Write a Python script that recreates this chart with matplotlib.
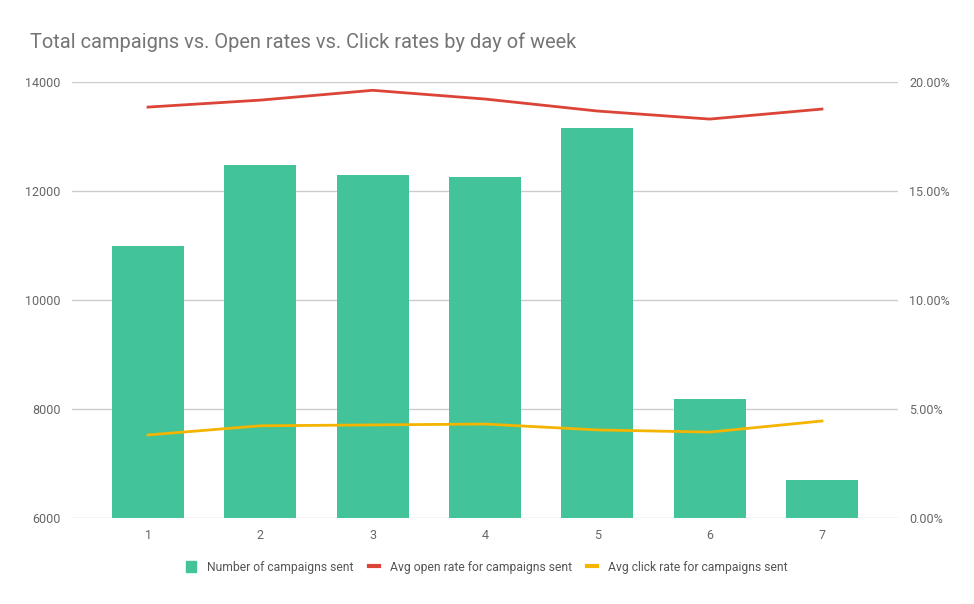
import matplotlib
matplotlib.use("Agg")
import numpy as np
from matplotlib import pyplot as plt
from matplotlib.ticker import FuncFormatter
from matplotlib.lines import Line2D
from matplotlib.patches import Patch

plt.rcParams['font.family'] = ['Roboto', 'DejaVu Sans']

days = [1, 2, 3, 4, 5, 6, 7]
campaigns = [11000, 12480, 12295, 12258, 13156, 8185, 6698]
open_rate = [18.85, 19.17, 19.62, 19.22, 18.67, 18.30, 18.76]
click_rate = [3.81, 4.23, 4.27, 4.31, 4.04, 3.94, 4.45]

labels = ["Number of campaigns sent",
          "Avg open rate for campaigns sent",
          "Avg click rate for campaigns sent"]

green = "#43c39a"
red = "#db4437"
yellow = "#f4b400"
grid_col = "#cccccc"
text_col = "#666666"

fig = plt.figure(figsize=(9.74, 6.04), dpi=100)
ax = fig.add_axes([0.0739, 0.1424, 0.8481, 0.7218])
ax2 = ax.twinx()

ax.bar(days, campaigns, width=0.64, color=green, zorder=2)
ax.set_ylim(6000, 14000)
ax.set_yticks([6000, 8000, 10000, 12000, 14000])
ax.set_xlim(0.323, 7.677)
ax.set_xticks(days)
ax.grid(axis="y", color=grid_col, linewidth=1, zorder=0)
ax.set_axisbelow(True)

ax2.plot(days, open_rate, color=red, linewidth=2, zorder=3)
ax2.plot(days, click_rate, color=yellow, linewidth=2, zorder=3)
ax2.set_ylim(0, 20)
ax2.set_yticks([0, 5, 10, 15, 20])
ax2.yaxis.set_major_formatter(FuncFormatter(lambda v, p: "%.2f%%" % v))

for a in (ax, ax2):
    for s in a.spines.values():
        s.set_visible(False)
    a.tick_params(length=0, labelsize=9, colors=text_col, pad=8)
ax.tick_params(axis="x", pad=8)

fig.text(0.031, 0.93, "Total campaigns vs. Open rates vs. Click rates by day of week",
         fontsize=14.4, color="#757575", va="center")

handles = [Patch(facecolor=green, edgecolor=green),
           Line2D([], [], color=red, linewidth=3),
           Line2D([], [], color=yellow, linewidth=3)]
fig.legend(handles, labels, loc="center", bbox_to_anchor=(0.5, 0.061), ncol=3,
           frameon=False, fontsize=8.7, labelcolor="#555555", handlelength=0.8,
           handleheight=0.9, columnspacing=1.3, handletextpad=0.9)

plt.savefig("out.png", dpi=100)
